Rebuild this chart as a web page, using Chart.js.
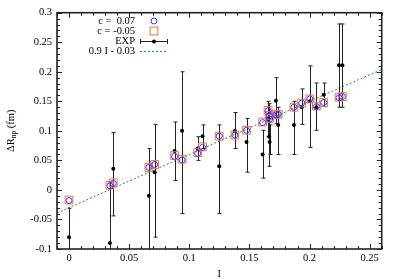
<!DOCTYPE html>
<html>
<head>
<meta charset="utf-8">
<script src="https://cdn.jsdelivr.net/npm/chart.js@4"></script>
<style>
  html, body { margin: 0; padding: 0; background: #fff; }
  #wrap { width: 399px; height: 279px; }
</style>
</head>
<body>
<div id="wrap"><canvas id="chart_dr"></canvas></div>
<script>
// Data
const iVals    = [0.000, 0.034, 0.0368, 0.0664, 0.0712, 0.0878, 0.094, 0.107, 0.111, 0.1249, 0.1379, 0.1476, 0.161, 0.1655, 0.1665, 0.1668, 0.172, 0.174, 0.187, 0.1935, 0.2002, 0.2057, 0.2118, 0.2245, 0.2273];
const modelP07 = [-0.018, 0.007, 0.011, 0.038, 0.043, 0.057, 0.051, 0.062, 0.072, 0.091, 0.093, 0.101, 0.114, 0.134, 0.125, 0.120, 0.127, 0.128, 0.140, 0.147, 0.154, 0.141, 0.148, 0.156, 0.158];
const modelM05 = [-0.017, 0.008, 0.012, 0.038, 0.043, 0.058, 0.052, 0.063, 0.073, 0.091, 0.093, 0.101, 0.115, 0.135, 0.126, 0.121, 0.128, 0.128, 0.140, 0.147, 0.154, 0.142, 0.148, 0.157, 0.158];
const expVals  = [-0.080, -0.090, 0.036, -0.010, 0.030, 0.066, 0.100, 0.070, 0.091, 0.040, 0.100, 0.081, 0.060, 0.120, 0.090, 0.081, 0.151, 0.110, 0.110, 0.140, 0.150, 0.140, 0.161, 0.211, 0.211];
const expLow   = [-0.130, -0.190, -0.044, -0.130, -0.080, 0.016, -0.040, 0.050, 0.070, -0.040, 0.070, 0.030, 0.020, 0.090, 0.040, 0.060, 0.112, 0.060, 0.060, 0.111, 0.072, 0.101, 0.141, 0.140, 0.140];
const expHigh  = [-0.031, 0.012, 0.097, 0.070, 0.111, 0.115, 0.200, 0.090, 0.110, 0.110, 0.131, 0.121, 0.101, 0.150, 0.146, 0.110, 0.190, 0.140, 0.150, 0.171, 0.210, 0.181, 0.181, 0.281, 0.281];
const fitX     = [-0.01, 0.26];
const fitY     = [-0.039, 0.204];
const xTicks   = [0, 0.05, 0.1, 0.15, 0.2, 0.25];
const yTicks   = [-0.1, -0.05, 0, 0.05, 0.1, 0.15, 0.2, 0.25, 0.3];

const FONT = 'Liberation Serif';
const BLUE = '#3a3aff';
const ORANGE = '#f4704c';
const GREEN = '#2a922a';

const pts = (ys) => iVals.map((v, k) => ({x: v, y: ys[k]}));

// error bars, drawn just before the EXP dots
const errorBars = {
    id: 'errorBars',
    beforeDatasetDraw(chart, args) {
        if (args.index !== 2) return;
        const {ctx, chartArea: a, scales: {x, y}} = chart;
        ctx.save();
        ctx.beginPath();
        ctx.rect(a.left, a.top, a.right - a.left, a.bottom - a.top);
        ctx.clip();
        ctx.strokeStyle = '#222';
        ctx.lineWidth = 1;
        iVals.forEach((v, k) => {
            const px = Math.round(x.getPixelForValue(v)) + 0.5;
            const y1 = y.getPixelForValue(expLow[k]);
            const y2 = y.getPixelForValue(expHigh[k]);
            ctx.beginPath();
            ctx.moveTo(px, y1); ctx.lineTo(px, y2);
            ctx.moveTo(px - 2, y1); ctx.lineTo(px + 2, y1);
            ctx.moveTo(px - 2, y2); ctx.lineTo(px + 2, y2);
            ctx.stroke();
        });
        ctx.restore();
    }
};

// gnuplot-like frame, inward ticks, key and y title
const frame = {
    id: 'frame',
    afterDraw(chart) {
        const {ctx, chartArea: a, scales: {x, y}} = chart;
        ctx.save();
        ctx.strokeStyle = '#222';
        ctx.lineWidth = 1;
        ctx.beginPath();
        for (let k = -1; k <= 26; k++) {
            const px = Math.round(x.getPixelForValue(k / 100)) + 0.5;
            const len = (k % 5 === 0) ? 5 : 3;
            ctx.moveTo(px, a.bottom); ctx.lineTo(px, a.bottom - len);
            ctx.moveTo(px, a.top); ctx.lineTo(px, a.top + len);
        }
        for (let k = -10; k <= 30; k++) {
            const py = Math.round(y.getPixelForValue(k / 100)) + 0.5;
            const len = (k % 5 === 0) ? 5 : 3;
            ctx.moveTo(a.left, py); ctx.lineTo(a.left + len, py);
            ctx.moveTo(a.right, py); ctx.lineTo(a.right - len, py);
        }
        ctx.stroke();
        ctx.lineWidth = 1.6;
        ctx.strokeRect(a.left, a.top, a.right - a.left, a.bottom - a.top);

        // key
        ctx.font = '10.5px "' + FONT + '"';
        ctx.fillStyle = '#000';
        ctx.textAlign = 'right';
        ctx.textBaseline = 'middle';
        const rows = ['c =  0.07', 'c = -0.05', 'EXP', '0.9 I - 0.03'];
        const sx = 154;
        rows.forEach((t, r) => ctx.fillText(t, 135, 21 + r * 10));
        ctx.lineWidth = 1;
        ctx.strokeStyle = BLUE;
        ctx.beginPath(); ctx.arc(sx, 21, 3, 0, Math.PI * 2); ctx.stroke();
        ctx.strokeStyle = ORANGE;
        ctx.strokeRect(sx - 3.9, 31 - 3.9, 7.8, 7.8);
        ctx.strokeStyle = '#222';
        ctx.beginPath();
        ctx.moveTo(140, 41.5); ctx.lineTo(168, 41.5);
        ctx.moveTo(140.5, 39); ctx.lineTo(140.5, 44);
        ctx.moveTo(167.5, 39); ctx.lineTo(167.5, 44);
        ctx.stroke();
        ctx.fillStyle = '#000';
        ctx.beginPath(); ctx.arc(sx, 41.5, 2, 0, Math.PI * 2); ctx.fill();
        ctx.strokeStyle = GREEN;
        ctx.setLineDash([2, 2]);
        ctx.beginPath(); ctx.moveTo(140, 51.5); ctx.lineTo(167, 51.5); ctx.stroke();
        ctx.setLineDash([]);

        // y title with subscript
        ctx.translate(11, (a.top + a.bottom) / 2);
        ctx.rotate(-Math.PI / 2);
        ctx.textAlign = 'left';
        ctx.textBaseline = 'middle';
        const big = '10.5px "' + FONT + '"', small = '7.5px "' + FONT + '"';
        ctx.font = big;
        const w1 = ctx.measureText('\u0394R').width;
        const w3 = ctx.measureText(' (fm)').width;
        ctx.font = small;
        const w2 = ctx.measureText('np').width;
        let sx0 = -(w1 + w2 + w3) / 2;
        ctx.font = big; ctx.fillText('\u0394R', sx0, 0);
        ctx.font = small; ctx.fillText('np', sx0 + w1, 3);
        ctx.font = big; ctx.fillText(' (fm)', sx0 + w1 + w2, 0);
        ctx.restore();
    }
};

const fmt = (v) => String(+Number(v).toFixed(2));

new Chart(document.getElementById('chart_dr'), {
    type: 'scatter',
    data: {
        datasets: [
            {
                label: 'c =  0.07',
                data: pts(modelP07),
                pointStyle: 'circle',
                pointRadius: 3,
                borderColor: BLUE,
                backgroundColor: 'rgba(0,0,0,0)',
                borderWidth: 1
            },
            {
                label: 'c = -0.05',
                data: pts(modelM05),
                pointStyle: 'rect',
                pointRadius: 5.5,
                borderColor: ORANGE,
                backgroundColor: 'rgba(0,0,0,0)',
                borderWidth: 1
            },
            {
                label: 'EXP',
                data: pts(expVals),
                pointStyle: 'circle',
                pointRadius: 2,
                borderWidth: 0,
                backgroundColor: '#000'
            },
            {
                type: 'line',
                label: '0.9 I - 0.03',
                data: fitX.map((v, k) => ({x: v, y: fitY[k]})),
                borderColor: GREEN,
                borderWidth: 1,
                borderDash: [2, 2],
                pointRadius: 0,
                fill: false
            }
        ]
    },
    options: {
        responsive: true,
        maintainAspectRatio: false,
        animation: false,
        events: [],
        layout: {padding: {top: 12.7, right: 17.3, left: 0, bottom: 0}},
        plugins: {legend: {display: false}, tooltip: {enabled: false}},
        scales: {
            x: {
                type: 'linear',
                min: -0.01, max: 0.26,
                afterBuildTicks: (s) => { s.ticks = xTicks.map(v => ({value: v})); },
                afterFit: (s) => { s.height = 30; },
                grid: {display: false, drawTicks: false},
                border: {display: false},
                ticks: {padding: 3, color: '#000', font: {family: FONT, size: 10.5}, callback: fmt},
                title: {display: true, text: 'I', color: '#000', padding: 0, font: {family: FONT, size: 10.5, lineHeight: 1}}
            },
            y: {
                type: 'linear',
                min: -0.1, max: 0.3,
                afterBuildTicks: (s) => { s.ticks = yTicks.map(v => ({value: v})); },
                afterFit: (s) => { s.width = 57; },
                grid: {display: false, drawTicks: false},
                border: {display: false},
                ticks: {padding: 5, color: '#000', font: {family: FONT, size: 10.5}, callback: fmt}
            }
        }
    },
    plugins: [errorBars, frame]
});
</script>
</body>
</html>
